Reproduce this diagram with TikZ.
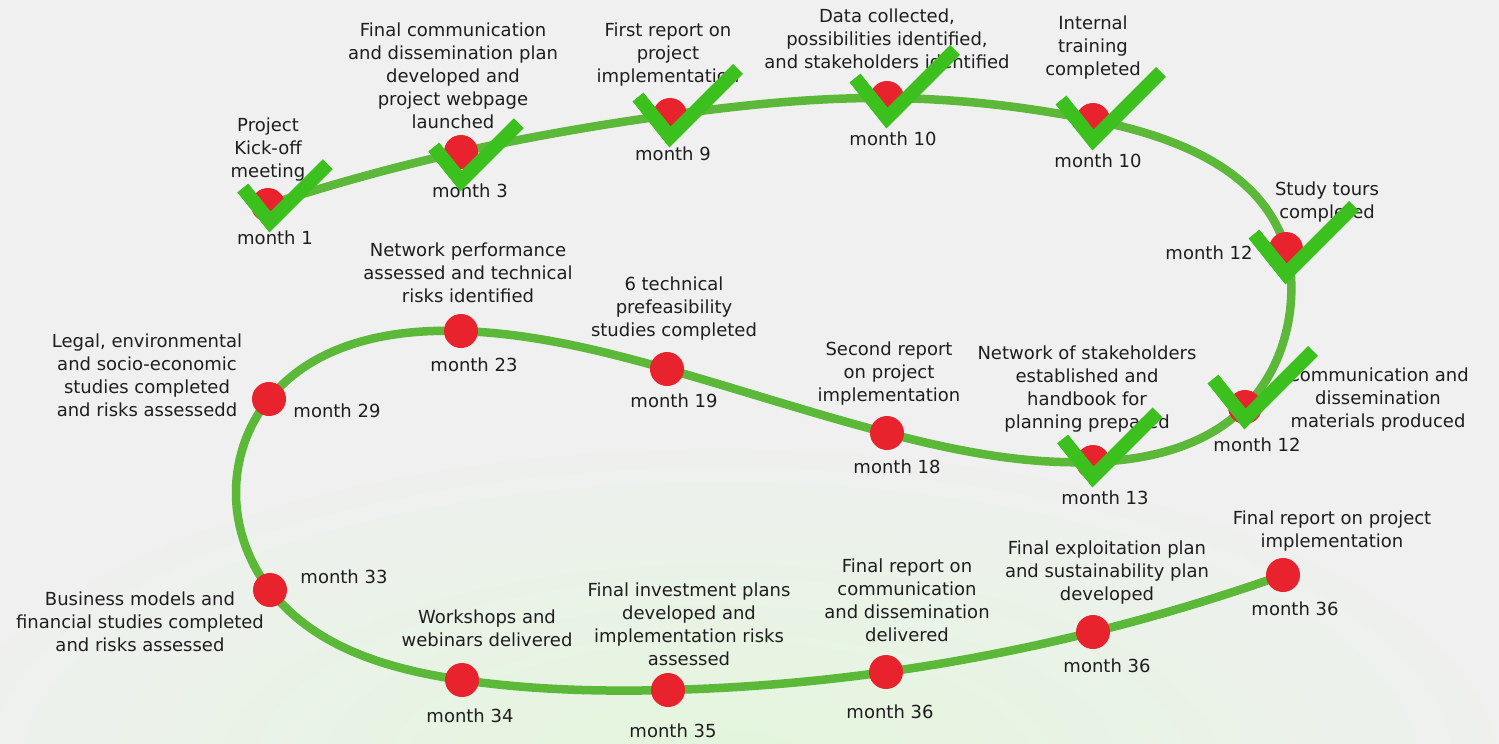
\documentclass[tikz,border=0pt]{standalone}
\usepackage{fontspec}
\setmainfont{DejaVu Sans}
\usetikzlibrary{calc,hobby}
\definecolor{bg}{HTML}{EFF0EF}
\definecolor{bgg}{HTML}{E3F6DC}
\definecolor{curvegreen}{HTML}{5CB838}
\definecolor{dotred}{HTML}{E8232D}
\definecolor{chkgreen}{HTML}{3CC01E}
\definecolor{txt}{HTML}{1E1E1E}
\begin{document}
\begin{tikzpicture}[x=1pt,y=-1pt,
  dot/.style={circle,fill=dotred,minimum size=34pt,inner sep=0pt},
  lbl/.style={align=center,inner sep=0pt,text=txt,font=\fontsize{18}{23}\selectfont,anchor=north},
  mon/.style={inner sep=0pt,text=txt,font=\fontsize{18}{23}\selectfont},
  track/.style={draw=curvegreen,line width=8.5pt},
  chkline/.style={draw=chkgreen,line width=14pt,line join=miter,line cap=butt},
  chk/.pic={\draw[chkline] (-32,-20) -- (0,20) -- (68,-48);}
]
\useasboundingbox (0,0) rectangle (1499,744);
\begin{scope}
\clip (0,0) rectangle (1499,744);
\fill[bg] (0,0) rectangle (1499,744);
\shade[inner color=bgg,outer color=bg] (720,770) ellipse [x radius=800pt, y radius=330pt];
\end{scope}

\coordinate (c1) at (268,205);
\coordinate (c2) at (461,152);
\coordinate (c3) at (670,115);
\coordinate (c4) at (887,98);
\coordinate (c5) at (1093,120);
\coordinate (c6) at (1286,249);
\coordinate (r3) at (1291,300);
\coordinate (c7) at (1245,407);
\coordinate (c8) at (1093,462);
\coordinate (c9) at (887,433);
\coordinate (c10) at (667,369);
\coordinate (c11) at (461,331);
\coordinate (c12) at (269,399);
\coordinate (q4) at (236,492);
\coordinate (c13) at (270,590);
\coordinate (c14) at (462,680);
\coordinate (c15) at (668,690);
\coordinate (c16) at (886,672);
\coordinate (c17) at (1093,632);
\coordinate (c18) at (1283,575);

\draw[track,use Hobby shortcut] (c1) .. (c2) .. (c3) .. (c4) .. (c5) .. (c6) .. (r3) .. (c7) .. (c8) .. (c9) .. (c10) .. (c11) .. (c12) .. (q4) .. (c13) .. (c14) .. (c15) .. (c16) .. (c17) .. (c18);

\foreach \i in {1,...,18} { \node[dot] (d\i) at (c\i) {}; }

\node[lbl] (l1) at (268,115) {\strut Project\\Kick-off\\meeting};
\node[lbl] (l2) at (453,20) {\strut Final communication\\and dissemination plan\\developed and\\project webpage\\launched};
\node[lbl] (l3) at (668,20) {\strut First report on\\project\\implementation};
\node[lbl] (l4) at (887,6) {\strut Data collected,\\possibilities identified,\\and stakeholders identified};
\node[lbl] (l5) at (1093,13) {\strut Internal\\training\\completed};
\node[lbl] (l6) at (1327,179) {\strut Study tours\\completed};
\node[lbl] (l7) at (1378,365) {\strut Communication and\\dissemination\\materials produced};
\node[lbl] (l8) at (1087,343) {\strut Network of stakeholders\\established and\\handbook for\\planning prepared};
\node[lbl] (l9) at (889,339) {\strut Second report\\on project\\implementation};
\node[lbl] (l10) at (674,274) {\strut 6 technical\\prefeasibility\\studies completed};
\node[lbl] (l11) at (468,240) {\strut Network performance\\assessed and technical\\risks identified};
\node[lbl] (l12) at (147,331) {\strut Legal, environmental\\and socio-economic\\studies completed\\and risks assessedd};
\node[lbl] (l13) at (140,589) {\strut Business models and\\financial studies completed\\and risks assessed};
\node[lbl] (l14) at (487,607) {\strut Workshops and\\webinars delivered};
\node[lbl] (l15) at (689,580) {\strut Final investment plans\\developed and\\implementation risks\\assessed};
\node[lbl] (l16) at (907,556) {\strut Final report on\\communication\\and dissemination\\delivered};
\node[lbl] (l17) at (1107,538) {\strut Final exploitation plan\\and sustainability plan\\developed};
\node[lbl] (l18) at (1332,508) {\strut Final report on project\\implementation};

\node[mon] (m1) at (275,238) {month 1};
\node[mon] (m2) at (470,191) {month 3};
\node[mon] (m3) at (673,154) {month 9};
\node[mon] (m4) at (893,139) {month 10};
\node[mon] (m5) at (1098,161) {month 10};
\node[mon] (m6) at (1209,253) {month 12};
\node[mon] (m7) at (1257,445) {month 12};
\node[mon] (m8) at (1105,498) {month 13};
\node[mon] (m9) at (897,467) {month 18};
\node[mon] (m10) at (674,401) {month 19};
\node[mon] (m11) at (474,365) {month 23};
\node[mon] (m12) at (337,411) {month 29};
\node[mon] (m13) at (344,577) {month 33};
\node[mon] (m14) at (470,716) {month 34};
\node[mon] (m15) at (673,731) {month 35};
\node[mon] (m16) at (890,712) {month 36};
\node[mon] (m17) at (1107,666) {month 36};
\node[mon] (m18) at (1295,609) {month 36};

\pic[scale=0.85] at ($(c1)+(2,0)$) {chk};
\pic[scale=0.85] at ($(c2)+(0,12)$) {chk};
\pic at ($(c3)+(0,2)$) {chk};
\pic at (c4) {chk};
\pic at (c5) {chk};
\pic at ($(c6)+(0,5)$) {chk};
\pic at ($(c7)+(0,-8)$) {chk};
\pic[scale=0.95] at ($(c8)+(0,-4)$) {chk};
\end{tikzpicture}
\end{document}
